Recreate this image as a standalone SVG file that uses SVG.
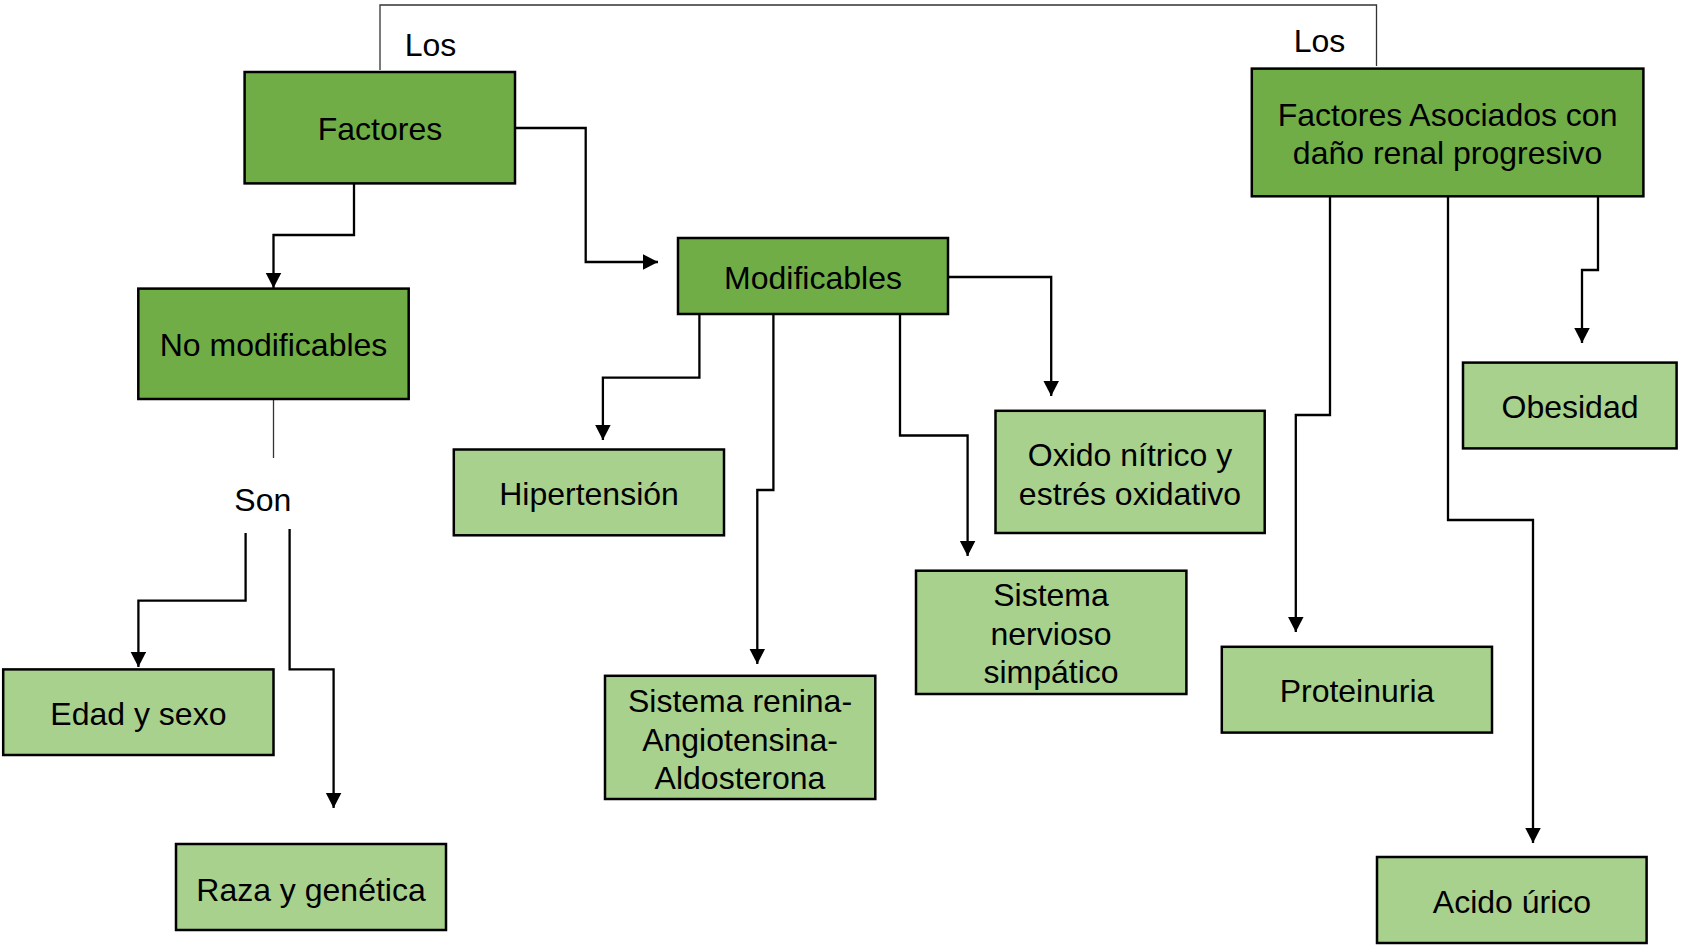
<svg xmlns="http://www.w3.org/2000/svg" width="1682" height="945" viewBox="0 0 1682 945">
<style>
.dark{fill:#70AD47;stroke:#000;stroke-width:2.5}
.light{fill:#A9D18E;stroke:#000;stroke-width:2.5}
text{font-family:"Liberation Sans",Arial,sans-serif;font-size:32px;fill:#000;text-anchor:middle}
.c{fill:none;stroke:#000;stroke-width:2.3;marker-end:url(#ah)}
.thin{fill:none;stroke:#333;stroke-width:1.3}
</style>
<defs>
<marker id="ah" markerUnits="userSpaceOnUse" markerWidth="17" markerHeight="17" refX="15.5" refY="8" orient="auto">
<path d="M0,0 L15.5,8 L0,16 Z" fill="#000"/>
</marker>
</defs>
<rect width="1682" height="945" fill="#fff"/>
<g id="connectors">
<path class="thin" d="M380,70 V5 H1376.5 V66"/>
<path class="thin" d="M273.5,399 V458"/>
<path class="c" d="M354,183.4 V235 H273.5 V288"/>
<path class="c" d="M515,128 H585.7 V262 H658"/>
<path class="c" d="M699.4,314 V377.6 H602.9 V440"/>
<path class="c" d="M773.4,314 V490 H757.3 V664"/>
<path class="c" d="M900,314 V435.5 H967.6 V556"/>
<path class="c" d="M948,277 H1051.2 V396"/>
<path class="c" d="M245.6,533 V600.7 H138.4 V667"/>
<path class="c" d="M289.6,529 V669.4 H333.6 V808"/>
<path class="c" d="M1330,196.3 V415 H1295.8 V632"/>
<path class="c" d="M1448,196.3 V520 H1533 V843"/>
<path class="c" d="M1598,196.3 V270 H1582 V343"/>
</g>
<g id="label-los-left"><text x="430.5" y="55.5">Los</text></g>
<g id="label-los-right"><text x="1319.5" y="52">Los</text></g>
<g id="label-son"><text x="262.8" y="511">Son</text></g>
<g id="factores"><rect class="dark" x="244.6" y="72" width="270.4" height="111.4"/><text x="380" y="140">Factores</text></g>
<g id="no-modificables"><rect class="dark" x="138.3" y="288.6" width="270.4" height="110.4"/><text x="273.5" y="356">No modificables</text></g>
<g id="modificables"><rect class="dark" x="678" y="238" width="270" height="76"/><text x="813" y="289">Modificables</text></g>
<g id="hipertension"><rect class="light" x="453.8" y="449.5" width="270.2" height="85.8"/><text x="589" y="505">Hipertensión</text></g>
<g id="sraa"><rect class="light" x="605" y="675.8" width="270.3" height="123.2"/><text x="740" y="712">Sistema renina-</text><text x="740" y="750.5">Angiotensina-</text><text x="740" y="789">Aldosterona</text></g>
<g id="sistema-nervioso"><rect class="light" x="916" y="570.7" width="270.4" height="123.3"/><text x="1051" y="606">Sistema</text><text x="1051" y="644.5">nervioso</text><text x="1051" y="683">simpático</text></g>
<g id="oxido"><rect class="light" x="995.5" y="410.8" width="269.2" height="122.2"/><text x="1130" y="466">Oxido nítrico y</text><text x="1130" y="505">estrés oxidativo</text></g>
<g id="edad"><rect class="light" x="3.2" y="669.4" width="270.3" height="85.6"/><text x="138.4" y="725">Edad y sexo</text></g>
<g id="raza"><rect class="light" x="176" y="844" width="270" height="86"/><text x="311" y="901">Raza y genética</text></g>
<g id="factores-asociados"><rect class="dark" x="1251.8" y="68.6" width="391.6" height="127.7"/><text x="1447.6" y="126">Factores Asociados con</text><text x="1447.6" y="164">daño renal progresivo</text></g>
<g id="proteinuria"><rect class="light" x="1221.8" y="646.8" width="270.2" height="85.8"/><text x="1357" y="702">Proteinuria</text></g>
<g id="acido"><rect class="light" x="1377" y="857" width="269.6" height="86"/><text x="1512" y="913">Acido úrico</text></g>
<g id="obesidad"><rect class="light" x="1463" y="362.6" width="213.6" height="85.8"/><text x="1570" y="418">Obesidad</text></g>
</svg>
